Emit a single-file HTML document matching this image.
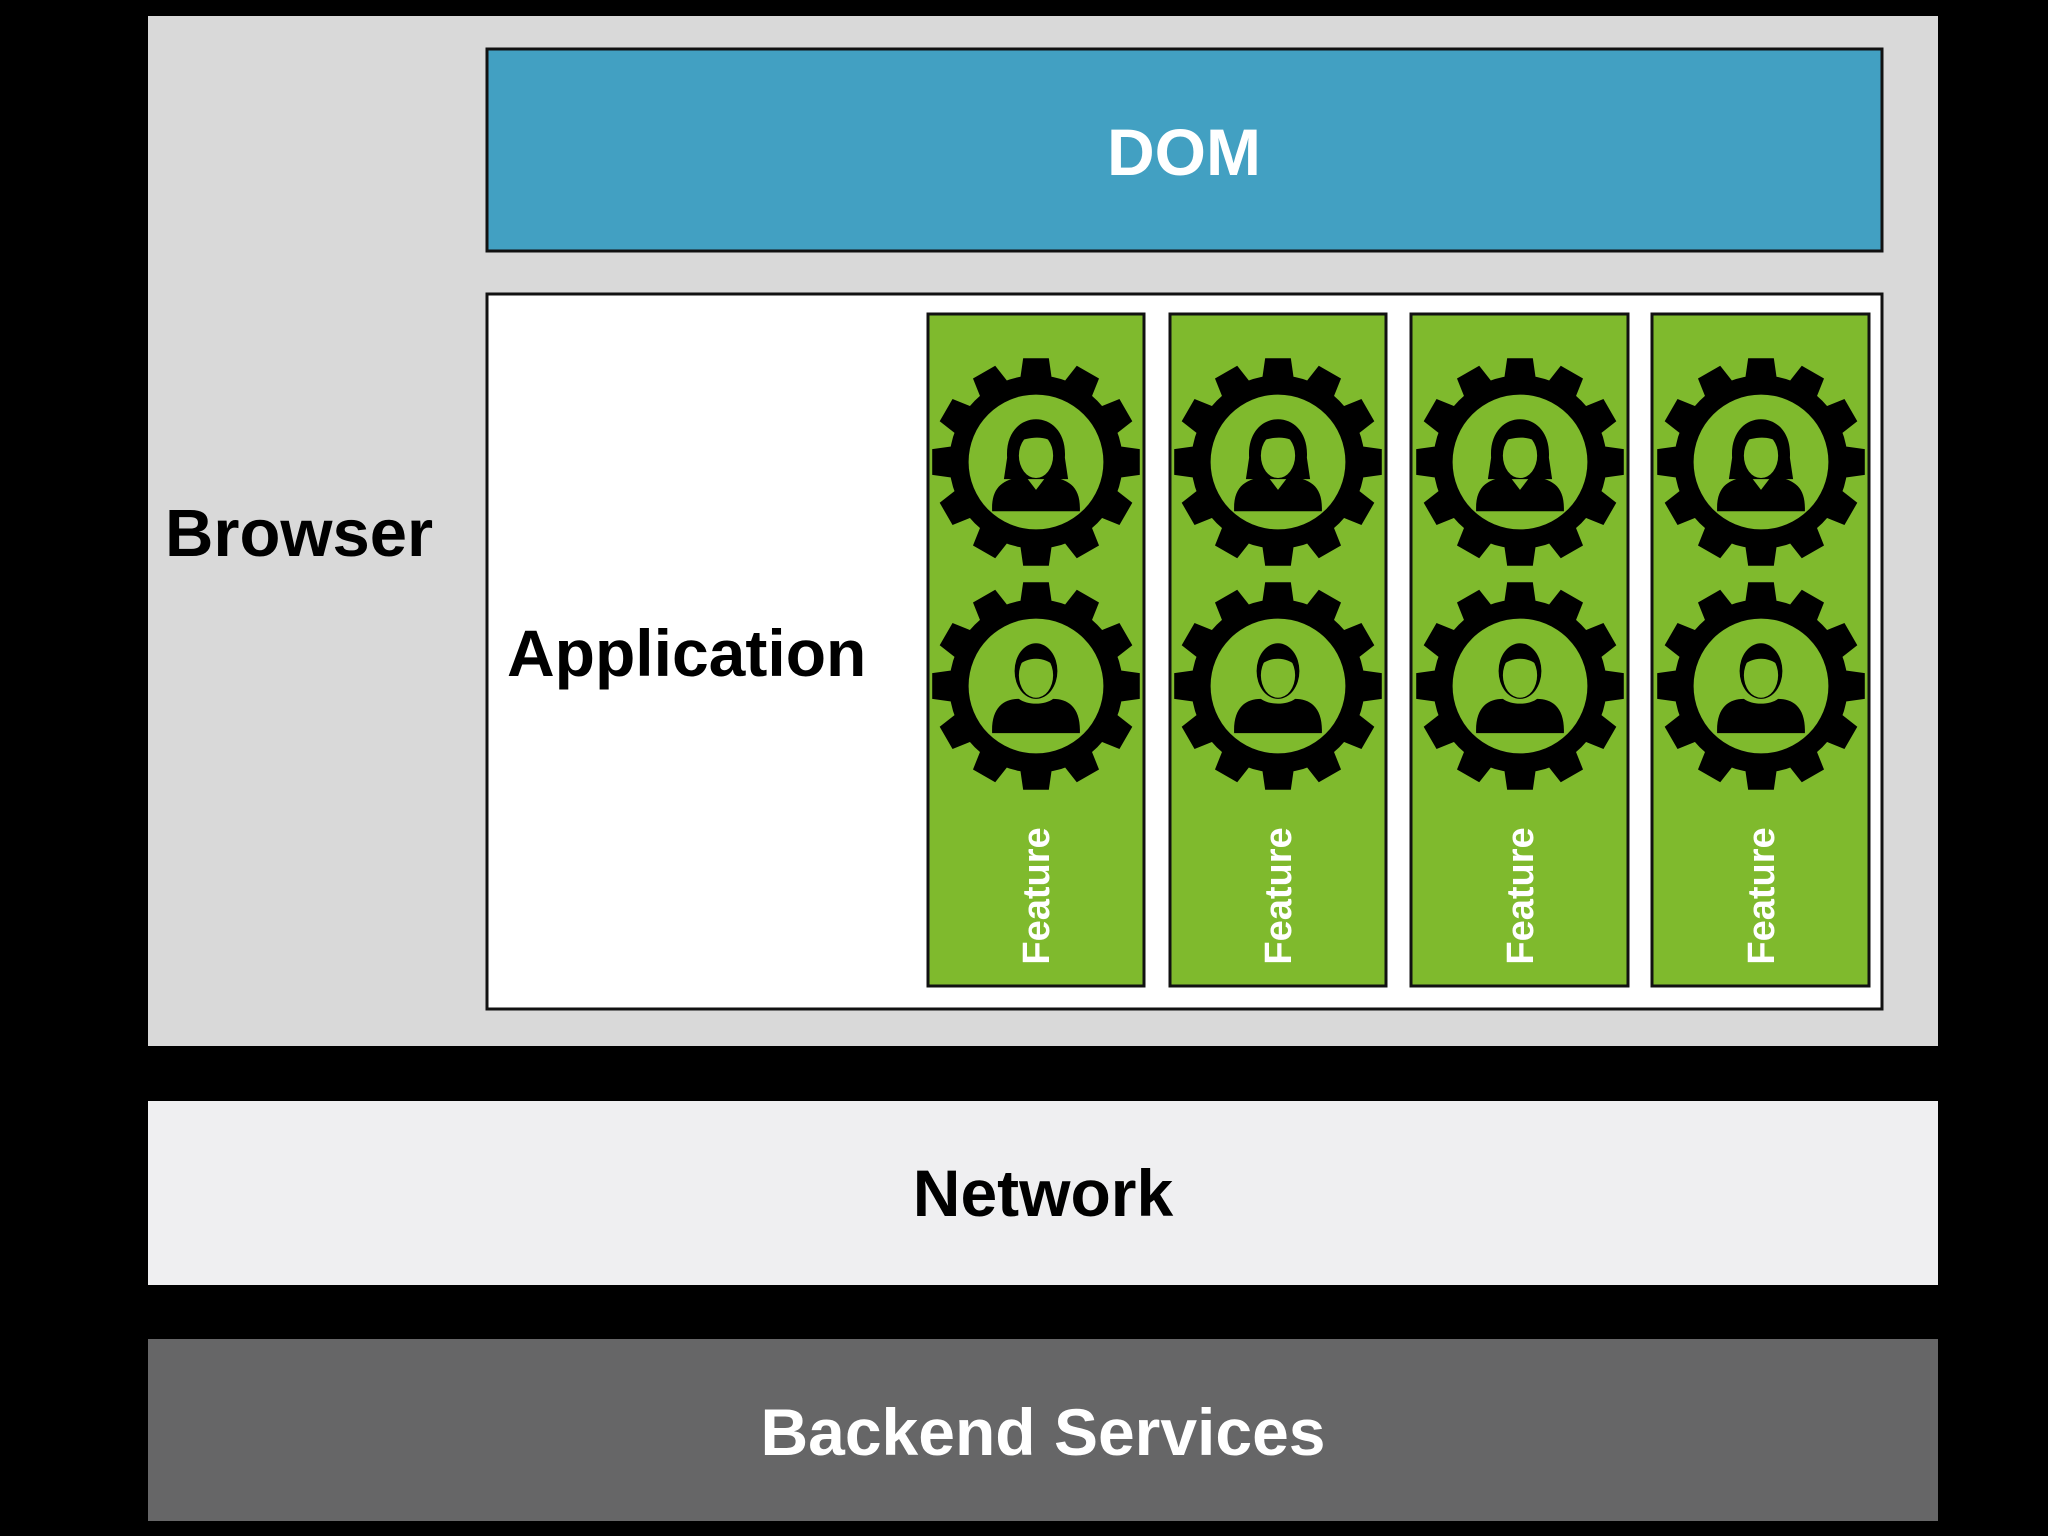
<!DOCTYPE html>
<html><head><meta charset="utf-8"><style>
html,body{margin:0;padding:0;background:#000;}
svg{display:block}
text{font-family:"Liberation Sans",Arial,sans-serif;font-weight:bold}
</style></head><body>
<svg width="2048" height="1536" viewBox="0 0 2048 1536" xmlns="http://www.w3.org/2000/svg">
<defs>
<g id="gear">
  <g fill="#000">
    <circle r="81"/>
    <g>
      <path id="t" d="M-15,-76 L-12,-97 L12,-97 L15,-76 Z"/>
      <use href="#t" transform="rotate(30)"/>
      <use href="#t" transform="rotate(60)"/>
      <use href="#t" transform="rotate(90)"/>
      <use href="#t" transform="rotate(120)"/>
      <use href="#t" transform="rotate(150)"/>
      <use href="#t" transform="rotate(180)"/>
      <use href="#t" transform="rotate(210)"/>
      <use href="#t" transform="rotate(240)"/>
      <use href="#t" transform="rotate(270)"/>
      <use href="#t" transform="rotate(300)"/>
      <use href="#t" transform="rotate(330)"/>
    </g>
  </g>
  <circle r="63" fill="#7fba2d"/>
</g>
<g id="woman">
  <use href="#gear"/>
  <path d="M-27,-4 C-30,-52 30,-52 27,-4 L30,16 L-30,16 Z" fill="#000"/>
  <ellipse cx="0" cy="-6" rx="16" ry="21" fill="#7fba2d"/>
  <path d="M-20,-18 C-10,-40 15,-38 22,-14 C10,-26 -5,-24 -20,-18Z" fill="#000"/>
  <path d="M-41,46 C-42,22 -30,16 -10,13 L0,26 L10,13 C30,16 42,22 41,46 Z" fill="#000"/>
</g>
<g id="man">
  <use href="#gear"/>
  <ellipse cx="0" cy="-14" rx="20" ry="26" fill="#000"/>
  <ellipse cx="0" cy="-10" rx="16" ry="21" fill="#7fba2d"/>
  <path d="M-18,-18 C-14,-36 14,-36 18,-18 C8,-28 -8,-28 -18,-18Z" fill="#000"/>
  <path d="M-41,44 C-42,20 -30,12 -16,12 C-8,18 8,18 16,12 C30,12 42,20 41,44 Z" fill="#000"/>
</g>
</defs>
<rect width="2048" height="1536" fill="#000"/>
<rect x="148" y="16" width="1790" height="1030" fill="#d9d9d9"/>
<text x="165" y="556" font-size="67" fill="#000">Browser</text>
<rect x="487" y="49" width="1395" height="202" fill="#42a0c2" stroke="#111" stroke-width="3"/>
<text x="1184" y="175" font-size="66" fill="#fff" text-anchor="middle">DOM</text>
<rect x="487" y="294" width="1395" height="715" fill="#fff" stroke="#111" stroke-width="3"/>
<text x="507" y="676" font-size="66" fill="#000">Application</text>

<g stroke="#111" stroke-width="3" fill="#7fba2d">
<rect x="928" y="314" width="216" height="672"/>
<rect x="1170" y="314" width="216" height="672"/>
<rect x="1411" y="314" width="217" height="672"/>
<rect x="1652" y="314" width="217" height="672"/>
</g>
<g>
<use href="#woman" transform="translate(1036,462) scale(1.07)"/>
<use href="#man" transform="translate(1036,686) scale(1.07)"/>
<use href="#woman" transform="translate(1278,462) scale(1.07)"/>
<use href="#man" transform="translate(1278,686) scale(1.07)"/>
<use href="#woman" transform="translate(1520,462) scale(1.07)"/>
<use href="#man" transform="translate(1520,686) scale(1.07)"/>
<use href="#woman" transform="translate(1761,462) scale(1.07)"/>
<use href="#man" transform="translate(1761,686) scale(1.07)"/>
</g>
<g font-size="38" fill="#fff" text-anchor="middle">
<text transform="translate(1049,896) rotate(-90)">Feature</text>
<text transform="translate(1291,896) rotate(-90)">Feature</text>
<text transform="translate(1533,896) rotate(-90)">Feature</text>
<text transform="translate(1774,896) rotate(-90)">Feature</text>
</g>

<rect x="148" y="1101" width="1790" height="184" fill="#efeff1"/>
<text x="1043" y="1216" font-size="66" fill="#000" text-anchor="middle">Network</text>
<rect x="148" y="1339" width="1790" height="182" fill="#666667"/>
<text x="1043" y="1455" font-size="66" fill="#fff" text-anchor="middle">Backend Services</text>
</svg>
</body></html>
